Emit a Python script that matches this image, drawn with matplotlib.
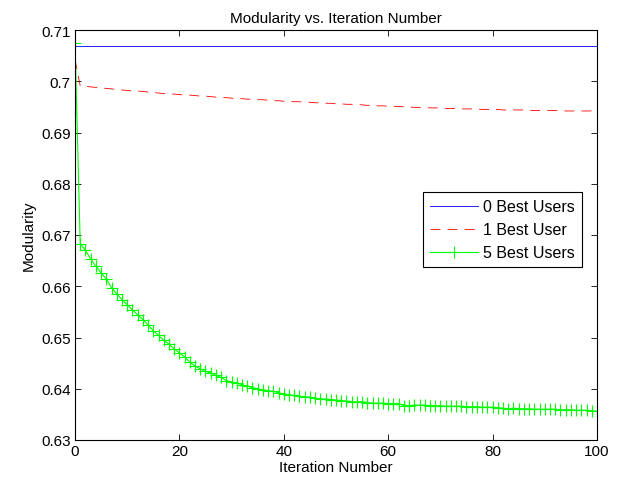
import matplotlib
matplotlib.use('Agg')
import matplotlib.pyplot as plt
from matplotlib.ticker import FuncFormatter

plt.rcParams['font.family'] = ['Liberation Sans', 'DejaVu Sans']

# iteration numbers 0..100
iterations = list(range(101))

# 0 best users: flat line
best0 = [0.7069] * 101

# 1 best user
best1 = [
    0.7043, 0.6991, 0.6990, 0.6989, 0.6988, 0.6987, 0.6986, 0.6985, 0.6984, 0.6983,
    0.6982, 0.6981, 0.6981, 0.6980, 0.6979, 0.6978, 0.6977, 0.6976, 0.6975, 0.6975,
    0.6974, 0.6973, 0.6973, 0.6972, 0.6971, 0.6971, 0.6970, 0.6969, 0.6968, 0.6968,
    0.6967, 0.6966, 0.6966, 0.6965, 0.6965, 0.6964, 0.6964, 0.6963, 0.6962, 0.6962,
    0.6961, 0.6961, 0.6960, 0.6960, 0.6959, 0.6959, 0.6958, 0.6958, 0.6957, 0.6957,
    0.6956, 0.6956, 0.6955, 0.6955, 0.6954, 0.6954, 0.6953, 0.6953, 0.6952, 0.6952,
    0.6951, 0.6951, 0.6951, 0.6950, 0.6950, 0.6949, 0.6949, 0.6949, 0.6948, 0.6948,
    0.6948, 0.6947, 0.6947, 0.6947, 0.6946, 0.6946, 0.6946, 0.6946, 0.6945, 0.6945,
    0.6945, 0.6945, 0.6944, 0.6944, 0.6944, 0.6944, 0.6944, 0.6943, 0.6943, 0.6943,
    0.6943, 0.6943, 0.6943, 0.6943, 0.6942, 0.6942, 0.6942, 0.6942, 0.6942, 0.6942,
    0.6942,
]

# 5 best users
best5 = [
    0.7075, 0.6683, 0.6670, 0.6653, 0.6639, 0.6626, 0.6614, 0.6597, 0.6585, 0.6574,
    0.6564, 0.6554, 0.6544, 0.6535, 0.6524, 0.6513, 0.6504, 0.6495, 0.6487, 0.6478,
    0.6470, 0.6462, 0.6452, 0.6444, 0.6439, 0.6434, 0.6431, 0.6426, 0.6422, 0.6416,
    0.6413, 0.6411, 0.6408, 0.6405, 0.6402, 0.6400, 0.6398, 0.6396, 0.6395, 0.6392,
    0.6390, 0.6388, 0.6387, 0.6385, 0.6384, 0.6384, 0.6381, 0.6380, 0.6380, 0.6379,
    0.6378, 0.6377, 0.6376, 0.6375, 0.6374, 0.6375, 0.6373, 0.6372, 0.6372, 0.6372,
    0.6371, 0.6371, 0.6371, 0.6367, 0.6367, 0.6368, 0.6368, 0.6368, 0.6367, 0.6367,
    0.6367, 0.6366, 0.6366, 0.6366, 0.6366, 0.6365, 0.6365, 0.6365, 0.6364, 0.6364,
    0.6364, 0.6363, 0.6362, 0.6361, 0.6362, 0.6361, 0.6361, 0.6361, 0.6360, 0.6360,
    0.6360, 0.6360, 0.6360, 0.6359, 0.6359, 0.6359, 0.6358, 0.6358, 0.6358, 0.6357,
    0.6356,
]

labels = ['0 Best Users', '1 Best User', '5 Best Users']
x_ticks = [0, 20, 40, 60, 80, 100]
y_ticks = [0.63, 0.64, 0.65, 0.66, 0.67, 0.68, 0.69, 0.70, 0.71]

fig = plt.figure(figsize=(6.26, 4.89), dpi=100)
ax = fig.add_axes([75 / 626, 1 - 441 / 489, 522 / 626, 410 / 489])

ax.plot(iterations, best0, color=(0, 0, 1), linewidth=0.6, label=labels[0])
ax.plot(iterations, best1, color=(1, 0, 0), linewidth=0.6,
        dashes=(12, 8.5), label=labels[1])
ax.plot(iterations, best5, color=(0, 1, 0), linewidth=0.8, marker='+',
        markersize=8, markeredgewidth=0.8, label=labels[2])

ax.set_xlim(0, 100)
ax.set_ylim(0.63, 0.71)
ax.set_xticks(x_ticks)
ax.set_yticks(y_ticks)
ax.yaxis.set_major_formatter(FuncFormatter(lambda v, p: '%g' % round(v, 2)))
ax.tick_params(direction='in', top=True, right=True, length=4, width=0.6,
               labelsize=11, pad=3)
for s in ax.spines.values():
    s.set_linewidth(0.8)

ax.set_title('Modularity vs. Iteration Number', fontsize=11, pad=6)
ax.set_xlabel('Iteration Number', fontsize=11, labelpad=1)
ax.set_ylabel('Modularity', fontsize=11, labelpad=4)

leg = ax.legend(loc='upper right', bbox_to_anchor=(0.971, 0.605),
                borderaxespad=0, fancybox=False, framealpha=1,
                edgecolor='black', fontsize=11.5, handlelength=3.0,
                handletextpad=0.3, borderpad=0.45, labelspacing=0.5)
leg.get_frame().set_linewidth(0.8)

plt.savefig('out.png', dpi=100)
